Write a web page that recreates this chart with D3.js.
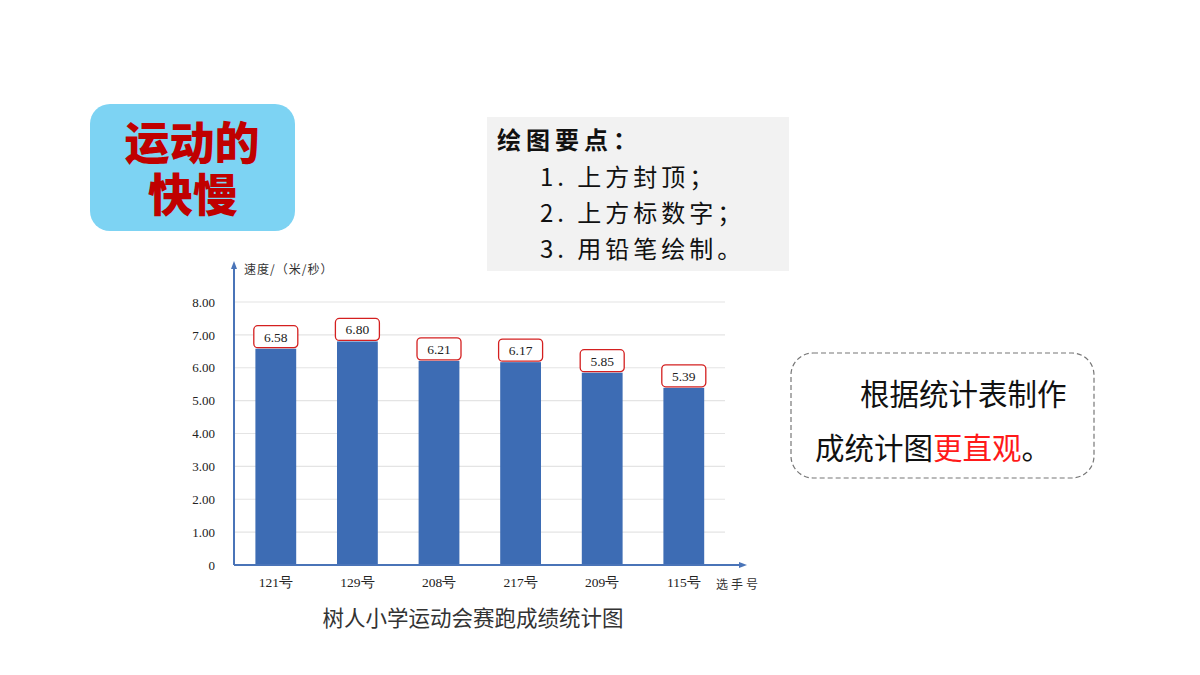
<!DOCTYPE html>
<html><head><meta charset="utf-8">
<script src="https://cdn.jsdelivr.net/npm/d3@7"></script>
<style>body{margin:0;background:#fff}svg{display:block}</style>
</head><body>
<svg id="c" width="1200" height="675"></svg>
<script>
const categories = ["121号","129号","208号","217号","209号","115号"];
const speeds = [6.58, 6.80, 6.21, 6.17, 5.85, 5.39];
const valueLabels = ["6.58","6.80","6.21","6.17","5.85","5.39"];
const yTicks = [0,1,2,3,4,5,6,7,8];
const yTickLabels = ["0","1.00","2.00","3.00","4.00","5.00","6.00","7.00","8.00"];
const chartTitle = "树人小学运动会赛跑成绩统计图";
const yAxisTitle = "速度/（米/秒）";
const xAxisTitle = "选手号";
const badgeLines = ["运动的","快慢"];
const tips = ["绘图要点：","1. 上方封顶；","2. 上方标数字；","3. 用铅笔绘制。"];

const svg = d3.select("#c");
const CJK = "'Noto Sans CJK SC', sans-serif";
const SERIF = "'Liberation Serif', 'DejaVu Serif', serif";

// Title badge
svg.append("rect").attr("x",90).attr("y",104).attr("width",205).attr("height",127)
  .attr("rx",20).attr("fill","#7dd3f3");
const bt = svg.append("text").attr("text-anchor","middle")
  .attr("font-family",CJK).attr("font-weight",900).attr("font-size",45).attr("fill","#c00000");
bt.append("tspan").attr("x",192).attr("y",160).text(badgeLines[0]);
bt.append("tspan").attr("x",193).attr("y",212).text(badgeLines[1]);

// Tips box
svg.append("rect").attr("x",487).attr("y",117).attr("width",302).attr("height",154).attr("fill","#f2f2f2");
svg.append("text").attr("x",497).attr("y",149).attr("font-family",CJK).attr("font-weight",700)
  .attr("font-size",24).attr("letter-spacing",5).attr("fill","#111").text(tips[0]);
tips.slice(1).forEach((t,i)=>{
  svg.append("text").attr("x",540).attr("y",186+i*36).attr("font-family",CJK)
    .attr("font-size",24).attr("letter-spacing",4).attr("fill","#111").text(t);
});

// Dashed note box
svg.append("rect").attr("x",791).attr("y",353).attr("width",303).attr("height",125).attr("rx",22)
  .attr("fill","none").attr("stroke","#777").attr("stroke-width",1.2).attr("stroke-dasharray","5,3");
svg.append("text").attr("x",860).attr("y",405).attr("font-family",CJK).attr("font-size",29.5)
  .attr("fill","#111").text("根据统计表制作");
const t2 = svg.append("text").attr("x",815).attr("y",459).attr("font-family",CJK).attr("font-size",29.5).attr("fill","#111");
t2.append("tspan").text("成统计图");
t2.append("tspan").attr("fill","#ff1a1a").text("更直观");
t2.append("tspan").text("。");

// Chart
const x0 = 234, yZero = 565, yTop = 302;
const x = d3.scaleBand().domain(categories).range([x0+1, x0+1+6*81.6]).paddingInner(0.5).paddingOuter(0.25);
const y = d3.scaleLinear().domain([0,8]).range([yZero, yTop]);
const axisColor = "#4a74b8";

const g = svg.append("g");
// gridlines
g.selectAll(".grid").data(yTicks.slice(1)).join("line")
  .attr("x1",x0).attr("x2",725).attr("y1",d=>y(d)).attr("y2",d=>y(d))
  .attr("stroke","#e4e4e4").attr("stroke-width",1.2);

// y axis via d3
const yAxis = d3.axisLeft(y).tickValues(yTicks).tickSize(0).tickPadding(19)
  .tickFormat((d,i)=>yTickLabels[i]);
const ya = g.append("g").attr("transform",`translate(${x0},0)`).call(yAxis);
ya.select(".domain").remove();
ya.selectAll("text").attr("font-family",SERIF).attr("font-size",13).attr("fill","#222");

// x axis labels via d3
const xAxis = d3.axisBottom(x).tickSize(0).tickPadding(12);
const xa = g.append("g").attr("transform",`translate(0,${yZero})`).call(xAxis);
xa.select(".domain").remove();
xa.selectAll("text").attr("font-family",SERIF).attr("font-size",13.5).attr("fill","#222");

// bars
g.selectAll(".bar").data(speeds).join("rect")
  .attr("x",(d,i)=>x(categories[i])).attr("width",x.bandwidth())
  .attr("y",d=>y(d)).attr("height",d=>yZero-y(d)).attr("fill","#3d6cb4");

// axis lines with arrows
g.append("line").attr("x1",x0).attr("x2",x0).attr("y1",yZero).attr("y2",268)
  .attr("stroke",axisColor).attr("stroke-width",2);
g.append("path").attr("d",`M${x0-3},${269} L${x0},${261} L${x0+3},${269} Z`).attr("fill",axisColor);
g.append("line").attr("x1",x0).attr("x2",740).attr("y1",yZero).attr("y2",yZero)
  .attr("stroke",axisColor).attr("stroke-width",2);
g.append("path").attr("d",`M${739},${yZero-3} L${747},${yZero} L${739},${yZero+3} Z`).attr("fill",axisColor);

// value label boxes
const lab = g.selectAll(".lab").data(speeds).join("g")
  .attr("transform",(d,i)=>`translate(${x(categories[i])+x.bandwidth()/2},${y(d)})`);
lab.append("rect").attr("x",-22).attr("y",-23).attr("width",44).attr("height",22).attr("rx",4)
  .attr("fill","#fff").attr("stroke","#d42020").attr("stroke-width",1.3);
lab.append("text").attr("y",-7).attr("text-anchor","middle").attr("font-family",SERIF)
  .attr("font-size",13.5).attr("fill","#222").text((d,i)=>valueLabels[i]);

// axis titles
g.append("text").attr("x",244).attr("y",274).attr("font-family",CJK).attr("font-size",12)
  .attr("letter-spacing",1).attr("fill","#333").text(yAxisTitle);
g.append("text").attr("x",716).attr("y",589).attr("font-family",CJK).attr("font-size",12)
  .attr("letter-spacing",3).attr("fill","#333").text(xAxisTitle);

// chart title
svg.append("text").attr("x",473).attr("y",626).attr("text-anchor","middle").attr("font-family",CJK)
  .attr("font-size",21.5).attr("fill","#333").text(chartTitle);
</script>
</body></html>
